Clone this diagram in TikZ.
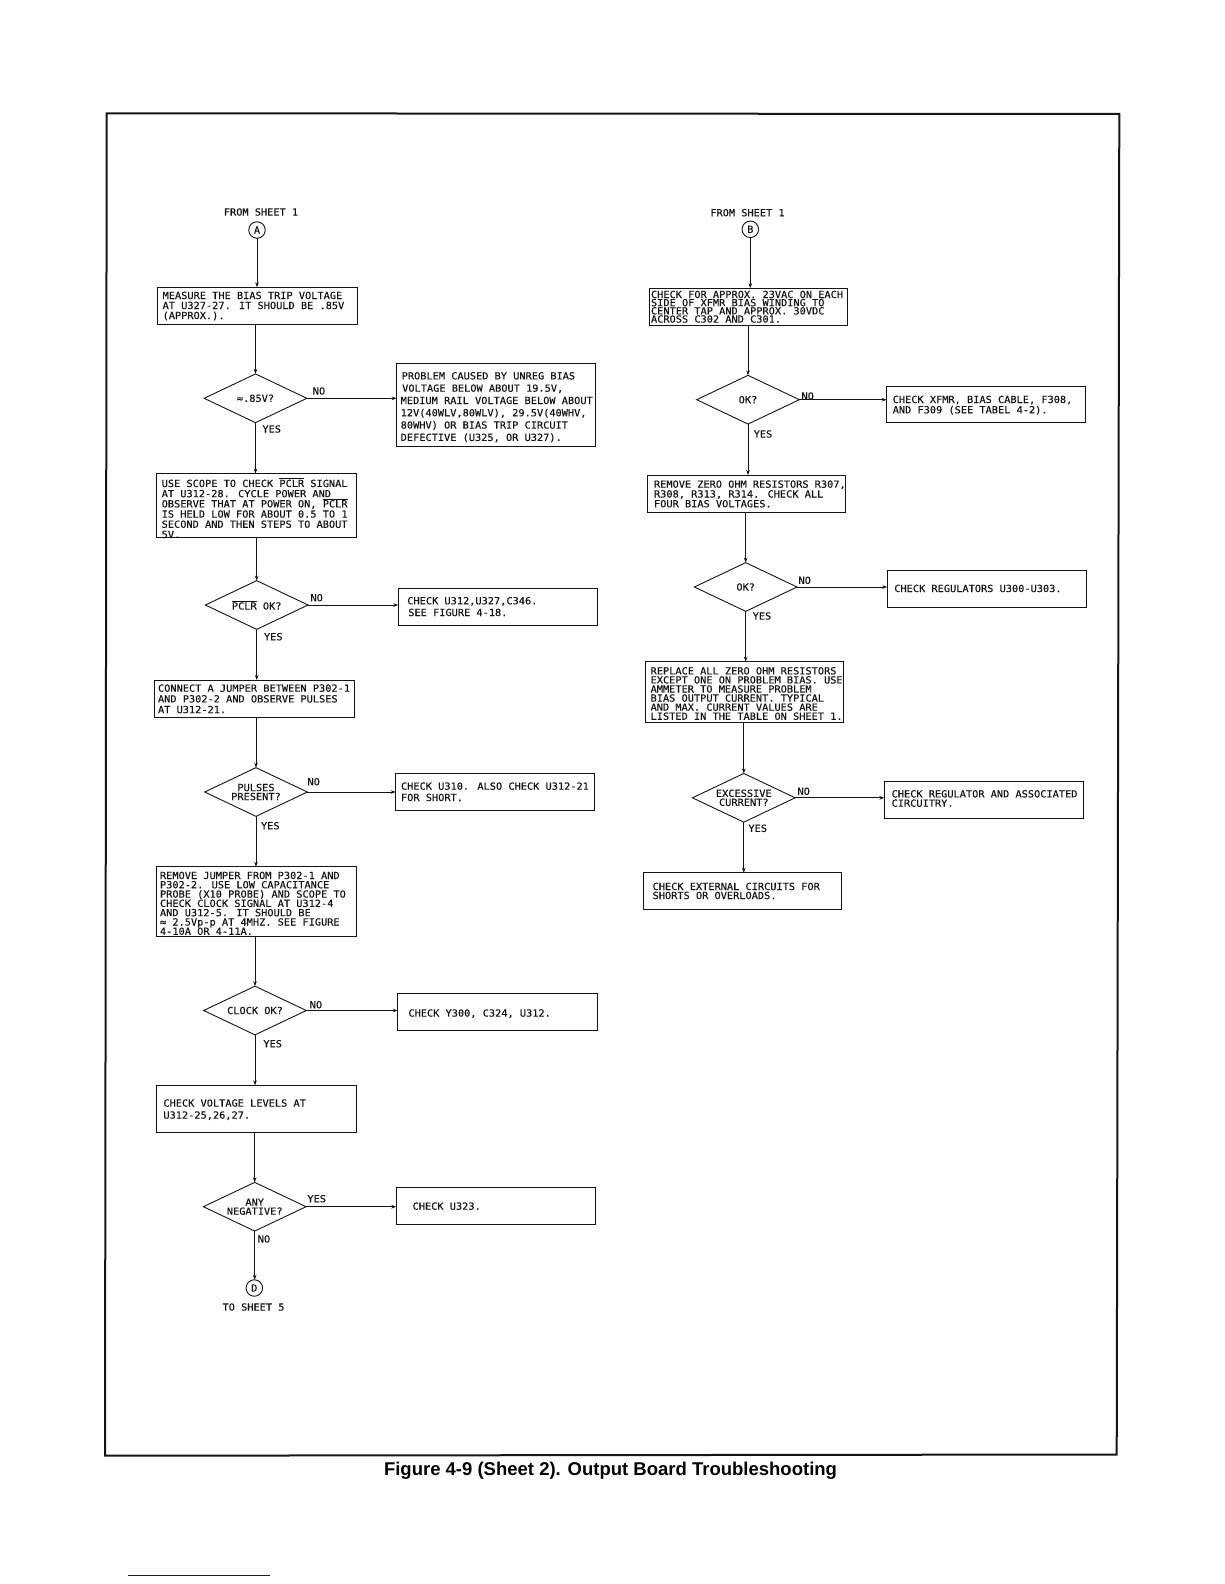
\documentclass[tikz,border=0pt]{standalone}
\usepackage{fontspec}
\setmainfont[FakeStretch=1.05,FakeBold=0.25]{DejaVu Sans Mono}
\newfontfamily\capfont{Liberation Sans}
\usetikzlibrary{shapes.geometric,arrows.meta}
\definecolor{ink}{gray}{0.08}
\definecolor{rulecol}{rgb}{0.05,0.05,0.62}
\newcommand{\ovl}[1]{$\overline{\hbox{#1}}$}
\newcommand{\chartfont}{\fontsize{9.8}{9.8}\selectfont}
% name, x1, y1, x2, y2, inset, first baseline, leading, lines
\newcommand{\bx}[9]{%
  \pgfmathsetmacro{\bxw}{#4-#2}%
  \pgfmathsetmacro{\bxh}{#5-#3}%
  \pgfmathsetmacro{\bxt}{#7-8}%
  \node[procbox,anchor=north west] (#1) at (#2,#3) {%
    \parbox[c][\bxh pt][t]{\bxw pt}{%
      \fontsize{9.8}{#8}\selectfont\raggedright\leftskip=#6pt\lineskiplimit=-100pt\relax
      \vspace*{\bxt pt}\rule{0pt}{8pt}#9\par}};}
\tikzset{
  x=1pt,y=-1pt,
  procbox/.style={draw=ink,line width=1pt,inner sep=0pt,outer sep=0pt,text=ink},
  decision/.style={diamond,draw=ink,line width=0.9pt,inner sep=0pt,outer sep=0pt,aspect=2.1,
    minimum width=102.7pt,minimum height=48.7pt,align=center,text=ink,
    font=\fontsize{9.8}{9}\selectfont},
  connector/.style={circle,draw=ink,line width=0.9pt,inner sep=0pt,outer sep=0pt,minimum size=16.5pt,
    text=ink,font=\chartfont},
  tag/.style={inner sep=0pt,text=ink,font=\chartfont},
  flow/.style={draw=ink,line width=0.9pt,-{Stealth[length=5pt,width=3.6pt]}}
}
\begin{document}
\begin{tikzpicture}
\useasboundingbox (0,0) rectangle (1224,1584);
\fill[white] (0,0) rectangle (1224,1584);
% page frame
\draw[ink,line width=2pt,line join=miter] (106.7,113.3) -- (1119.3,114) -- (1116.7,1454.5) -- (105,1455.7) -- cycle;
% left column
\node[tag] (fromA) at (261,212) {FROM SHEET 1};
\node[connector] (cA) at (257,230) {A};
\bx{b1}{157.3}{287.3}{357.3}{324}{5.3}{11.7}{10}{MEASURE THE BIAS TRIP VOLTAGE\\AT U327-27. IT SHOULD BE .85V\\(APPROX.).}
\node[decision] (d1) at (255.5,398.3) {≈.85V?};
\bx{n1}{396.7}{363.7}{595.7}{446.7}{4}{15.7}{12.3}{\hspace*{1pt}PROBLEM CAUSED BY UNREG BIAS\\\hspace*{1.5pt}VOLTAGE BELOW ABOUT 19.5V,\\MEDIUM RAIL VOLTAGE BELOW ABOUT\\12V(40WLV,80WLV), 29.5V(40WHV,\\80WHV) OR BIAS TRIP CIRCUIT\\DEFECTIVE (U325, OR U327).}
\node[tag] (l1n) at (319,391) {NO};
\node[tag] (l1y) at (271.7,429) {YES};
\bx{b2}{156.7}{473.7}{356.7}{537.7}{5}{12}{10.2}{USE SCOPE TO CHECK \ovl{PCLR} SIGNAL\\AT U312-28. CYCLE POWER AND\\OBSERVE THAT AT POWER ON, \ovl{PCLR}\\IS HELD LOW FOR ABOUT 0.5 TO 1\\SECOND AND THEN STEPS TO ABOUT\\5V.}
\node[decision] (d2) at (256.7,605) {\ovl{PCLR} OK?};
\bx{n2}{398.3}{588}{597.7}{625}{9}{16.3}{11.7}{CHECK U312,U327,C346.\\\hspace*{1pt}SEE FIGURE 4-18.}
\node[tag] (l2n) at (316.7,597.7) {NO};
\node[tag] (l2y) at (273.3,636.7) {YES};
\bx{b3}{154.7}{680}{354.3}{717}{3.3}{11.7}{10.7}{CONNECT A JUMPER BETWEEN P302-1\\AND P302-2 AND OBSERVE PULSES\\AT U312-21.}
\node[decision] (d3) at (256,792) {PULSES\\PRESENT?};
\bx{n3}{395.7}{773}{594.3}{810}{5.3}{16.7}{11.3}{CHECK U310. ALSO CHECK U312-21\\FOR SHORT.}
\node[tag] (l3n) at (313.7,781.7) {NO};
\node[tag] (l3y) at (270.3,825.7) {YES};
\bx{b4}{156.7}{866.7}{356}{936.7}{3.3}{12.3}{9.3}{REMOVE JUMPER FROM P302-1 AND\\P302-2. USE LOW CAPACITANCE\\PROBE (X10 PROBE) AND SCOPE TO\\CHECK CLOCK SIGNAL AT U312-4\\AND U312-5. IT SHOULD BE\\≈ 2.5Vp-p AT 4MHZ. SEE FIGURE\\4-10A OR 4-11A.}
\node[decision] (d4) at (255,1010.5) {CLOCK OK?};
\bx{n4}{397.7}{993.3}{597.3}{1030.7}{10.7}{23.3}{10}{CHECK Y300, C324, U312.}
\node[tag] (l4n) at (316,1004.7) {NO};
\node[tag] (l4y) at (272.7,1043.7) {YES};
\bx{b5}{156.7}{1085.3}{356.3}{1132.3}{6.7}{21.3}{12}{CHECK VOLTAGE LEVELS AT\\U312-25,26,27.}
\node[decision] (d5) at (254.7,1206.7) {ANY\\NEGATIVE?};
\bx{n5}{396.3}{1187}{595.3}{1224}{16.3}{22.7}{10}{CHECK U323.}
\node[tag] (l5y) at (316.7,1198.7) {YES};
\node[tag] (l5n) at (264,1239) {NO};
\node[connector] (cD) at (254.3,1288) {D};
\node[tag] (toD) at (253.5,1307) {TO SHEET 5};
% right column
\node[tag] (fromB) at (747.5,212.7) {FROM SHEET 1};
\node[connector] (cB) at (750.3,229.3) {B};
\bx{r1}{649}{288}{847.3}{325}{2}{10}{8.2}{CHECK FOR APPROX. 23VAC ON EACH\\SIDE OF XFMR BIAS WINDING TO\\CENTER TAP AND APPROX. 30VDC\\ACROSS C302 AND C301.}
\node[decision] (e1) at (748,399.7) {OK?};
\bx{s1}{886.7}{386.3}{1085.7}{422.7}{6}{16.7}{10.3}{CHECK XFMR, BIAS CABLE, F308,\\AND F309 (SEE TABEL 4-2).}
\node[tag] (k1n) at (807.7,396) {NO};
\node[tag] (k1y) at (763,434) {YES};
\bx{r2}{647.3}{475}{845.7}{512}{6.7}{12.7}{9.8}{REMOVE ZERO OHM RESISTORS R307,\\R308, R313, R314. CHECK ALL\\FOUR BIAS VOLTAGES.}
\node[decision] (e2) at (745.7,587) {OK?};
\bx{s2}{887.3}{570.7}{1086}{607.7}{7}{21.3}{10}{CHECK REGULATORS U300-U303.}
\node[tag] (k2n) at (804.7,580.3) {NO};
\node[tag] (k2y) at (762,616) {YES};
\bx{r3}{645.3}{661.7}{843.7}{722.7}{5.3}{12.7}{9.07}{REPLACE ALL ZERO OHM RESISTORS\\EXCEPT ONE ON PROBLEM BIAS. USE\\AMMETER TO MEASURE PROBLEM\\BIAS OUTPUT CURRENT. TYPICAL\\AND MAX. CURRENT VALUES ARE\\LISTED IN THE TABLE ON SHEET 1.}
\node[decision] (e3) at (743.8,797.8) {EXCESSIVE\\CURRENT?};
\bx{s3}{884.3}{781.7}{1083.7}{818.3}{7.3}{15.7}{9.3}{CHECK REGULATOR AND ASSOCIATED\\CIRCUITRY.}
\node[tag] (k3n) at (803.7,791.3) {NO};
\node[tag] (k3y) at (757.7,828.3) {YES};
\bx{r4}{643.3}{872.7}{841}{909.3}{9.3}{17.3}{9}{CHECK EXTERNAL CIRCUITS FOR\\SHORTS OR OVERLOADS.}
% connectors, left
\draw[flow] (cA) -- (cA |- b1.north);
\draw[flow] (d1.north |- b1.south) -- (d1.north);
\draw[flow] (d1.east) -- (d1.east -| n1.west);
\draw[flow] (d1.south) -- (d1.south |- b2.north);
\draw[flow] (d2.north |- b2.south) -- (d2.north);
\draw[flow] (d2.east) -- (d2.east -| n2.west);
\draw[flow] (d2.south) -- (d2.south |- b3.north);
\draw[flow] (d3.north |- b3.south) -- (d3.north);
\draw[flow] (d3.east) -- (d3.east -| n3.west);
\draw[flow] (d3.south) -- (d3.south |- b4.north);
\draw[flow] (d4.north |- b4.south) -- (d4.north);
\draw[flow] (d4.east) -- (d4.east -| n4.west);
\draw[flow] (d4.south) -- (d4.south |- b5.north);
\draw[flow] (d5.north |- b5.south) -- (d5.north);
\draw[flow] (d5.east) -- (d5.east -| n5.west);
\draw[flow] (d5.south) -- (d5.south |- cD.north);
% connectors, right
\draw[flow] (cB) -- (cB |- r1.north);
\draw[flow] (e1.north |- r1.south) -- (e1.north);
\draw[flow] (e1.east) -- (e1.east -| s1.west);
\draw[flow] (e1.south) -- (e1.south |- r2.north);
\draw[flow] (e2.north |- r2.south) -- (e2.north);
\draw[flow] (e2.east) -- (e2.east -| s2.west);
\draw[flow] (e2.south) -- (e2.south |- r3.north);
\draw[flow] (e3.north |- r3.south) -- (e3.north);
\draw[flow] (e3.east) -- (e3.east -| s3.west);
\draw[flow] (e3.south) -- (e3.south |- r4.north);
% caption and stray rule
\node[inner sep=0pt,font=\capfont\bfseries\fontsize{18.5}{20}\selectfont] (caption) at (610.5,1471) {Figure 4-9 (Sheet 2). Output Board Troubleshooting};
\draw[rulecol,line width=0.9pt] (127.5,1575) -- (270,1575);
\end{tikzpicture}
\end{document}
